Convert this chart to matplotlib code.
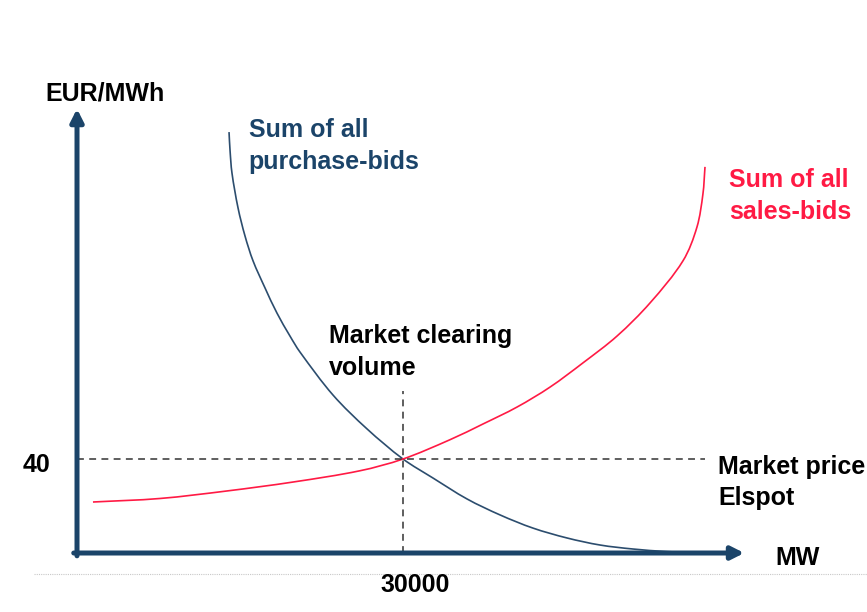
import numpy as np
import matplotlib
matplotlib.use("Agg")
import matplotlib.pyplot as plt
from matplotlib.path import Path
from matplotlib.patches import PathPatch
from matplotlib.transforms import IdentityTransform

plt.rcParams['font.family'] = ['Liberation Sans', 'DejaVu Sans']

# Supply / demand curves of the Elspot auction (MW, EUR/MWh)
purchase_mw = [13990, 14080, 14260, 14820, 15460, 16200, 17300, 18400, 19600,
               20520, 23560, 26690, 30000, 32760, 35890, 38930, 41960, 45090,
               48130, 51160, 54290, 57330]
purchase_price = [179.1, 171.5, 161.7, 146.8, 134.9, 124.3, 112.8, 102.1, 92.3,
                  85.5, 67.2, 52.8, 40.0, 31.9, 23.0, 16.2, 10.6, 6.4,
                  3.4, 1.7, 0.6, 0.0]

sales_mw = [1470, 7640, 13800, 19880, 26040, 30000, 34320, 37360, 40490,
            43530, 46560, 49690, 52730, 55760, 57050, 57600, 57790]
sales_price = [21.7, 23.2, 26.4, 30.2, 35.0, 40.0, 48.2, 54.9, 62.1,
               70.6, 80.9, 92.3, 106.4, 124.3, 138.7, 152.8, 164.3]

clearing_volume = 30000
clearing_price = 40
x_axis_end = 61400
y_axis_end = 189
price_line_end = 57800
volume_line_top = 69

navy = "#1b4469"
curve_blue = "#2c4d6e"
red = "#ff1a44"


def smooth_curve(ax, xs, ys, **kw):
    # chord-length Catmull-Rom through the points, drawn as cubic Beziers
    pts = ax.transData.transform(np.column_stack([xs, ys]))
    t = np.concatenate([[0], np.cumsum(np.hypot(*np.diff(pts, axis=0).T))])
    m = np.zeros_like(pts)
    m[1:-1] = (pts[2:] - pts[:-2]) / (t[2:] - t[:-2])[:, None]
    m[0] = (pts[1] - pts[0]) / (t[1] - t[0])
    m[-1] = (pts[-1] - pts[-2]) / (t[-1] - t[-2])
    verts = [pts[0]]
    codes = [Path.MOVETO]
    for i in range(len(pts) - 1):
        h = t[i + 1] - t[i]
        verts += [pts[i] + m[i] * h / 3, pts[i + 1] - m[i + 1] * h / 3, pts[i + 1]]
        codes += [Path.CURVE4] * 3
    ax.add_patch(PathPatch(Path(verts, codes), fill=False, transform=IdentityTransform(), **kw))


fig = plt.figure(figsize=(8.67, 6.12), dpi=100)
ax = fig.add_axes([0, 0, 1, 1])
ax.set_xlim(-7086, 72697)
ax.set_ylim(-25.1, 235.3)
ax.axis("off")

# dashed guides at the equilibrium
ax.plot([0, price_line_end], [clearing_price, clearing_price], color="#333333",
        lw=1.1, dashes=(4.5, 3.5))
ax.plot([clearing_volume, clearing_volume], [0, volume_line_top], color="#333333",
        lw=1.1, dashes=(4.5, 3.5))

# bid curves
smooth_curve(ax, purchase_mw, purchase_price, edgecolor=curve_blue, lw=1.2)
smooth_curve(ax, sales_mw, sales_price, edgecolor=red, lw=1.2)

# axes with arrow heads
arrow = dict(arrowstyle="-|>,head_length=0.75,head_width=0.38", color=navy,
             lw=3.6, shrinkA=0, shrinkB=0)
ax.annotate("", xy=(x_axis_end, 0), xytext=(-300, 0), arrowprops=arrow)
ax.annotate("", xy=(0, y_axis_end), xytext=(0, -1.2), arrowprops=arrow)

# thin grey baseline under the chart
ax.plot([-4000, 72697], [-9, -9], color="#c8c8c8", lw=0.8, ls=(0, (1, 1)))

bold = dict(fontweight="bold", fontsize=18)
ax.text(-2900, 195.5, "EUR/MWh", color="black", ha="left", va="center", **bold)
ax.text(64300, -2, "MW", color="black", ha="left", va="center", **bold)
ax.text(-2485, 37.4, "40", color="black", ha="right", va="center", **bold)
ax.text(clearing_volume + 1100, -13.6, "30000", color="black", ha="center", va="center", **bold)

ax.text(15800, 184.9, "Sum of all\npurchase-bids", color=navy, ha="left", va="top",
        linespacing=1.4, **bold)
ax.text(60000, 163.7, "Sum of all\nsales-bids", color=red, ha="left", va="top",
        linespacing=1.4, **bold)
ax.text(23200, 97.3, "Market clearing\nvolume", color="black", ha="left", va="top",
        linespacing=1.4, **bold)
ax.text(59000, 41.5, "Market price\nElspot", color="black", ha="left", va="top",
        linespacing=1.35, **bold)

fig.savefig("out.png", dpi=100, facecolor="white")
